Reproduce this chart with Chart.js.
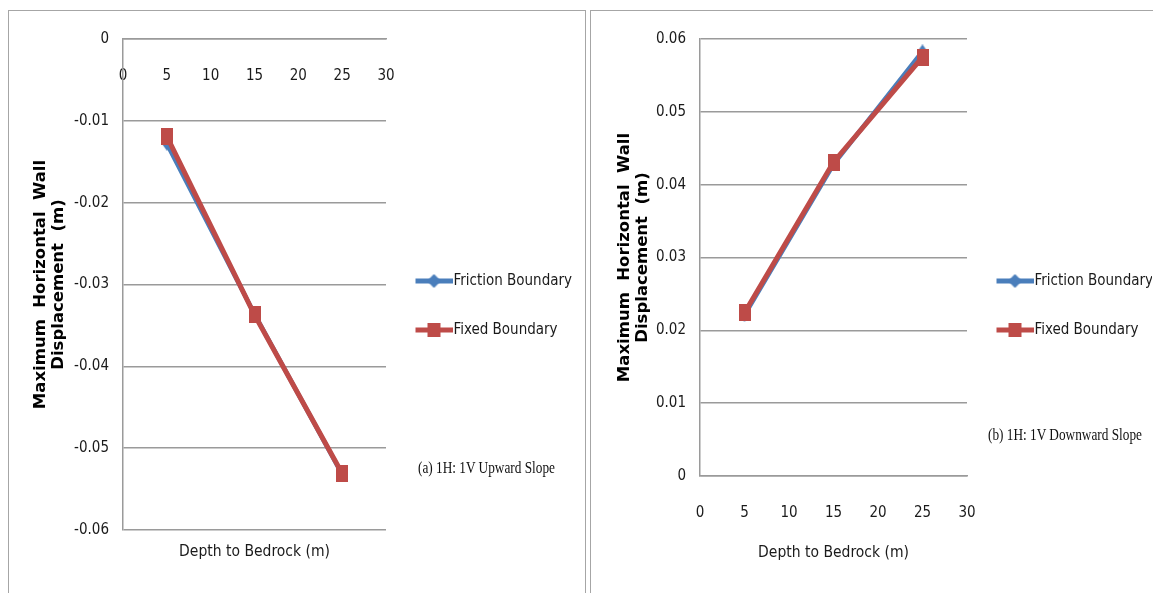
<!DOCTYPE html>
<html>
<head>
<meta charset="utf-8">
<script src="https://cdn.jsdelivr.net/npm/chart.js@4.4.1/dist/chart.umd.min.js"></script>
<style>
body { margin: 0; background: #fff; width: 1153px; height: 593px; overflow: hidden; position: relative; }
.panel { position: absolute; top: 10px; height: 600px; border: 1px solid #a6a6a6; box-sizing: border-box; }
canvas { position: absolute; }
.note { position: absolute; font-family: 'Liberation Serif', serif; font-size: 16px; color: #111;
        transform: scaleX(0.83); transform-origin: 0 50%; white-space: nowrap; line-height: 18px; }
</style>
</head>
<body>
<div class="panel" style="left:8px;width:578px"></div>
<div class="panel" style="left:590px;width:600px"></div>
<canvas id="upChart" width="575" height="582" style="left:9px;top:11px"></canvas>
<canvas id="downChart" width="561" height="582" style="left:591px;top:11px"></canvas>
<div class="note" style="left:418px;top:459px">(a) 1H: 1V Upward Slope</div>
<div class="note" style="left:988px;top:426px">(b) 1H: 1V Downward Slope</div>

<script>
// depth to bedrock (m)
const depths = [5, 15, 25];

// (a) 1H:1V upward slope
const upFriction = [-0.0128, -0.0336, -0.0532];
const upFixed = [-0.0119, -0.0337, -0.0531];

// (b) 1H:1V downward slope
const downFriction = [0.0221, 0.0428, 0.0583];
const downFixed = [0.0224, 0.0431, 0.0575];

const xTicks = [0, 5, 10, 15, 20, 25, 30];
const upTicks = [0, -0.01, -0.02, -0.03, -0.04, -0.05, -0.06];
const downTicks = [0, 0.01, 0.02, 0.03, 0.04, 0.05, 0.06];

const seriesNames = ['Friction Boundary', 'Fixed Boundary'];
const blue = '#4a7ebb';
const red = '#be4b48';
const gridColor = '#9a9a9a';

Chart.defaults.font.family = "'DejaVu Sans Condensed', 'Liberation Sans Narrow', sans-serif";
Chart.defaults.color = '#1a1a1a';

function diamond(w, h, color) {
    const c = document.createElement('canvas');
    c.width = w; c.height = h;
    const g = c.getContext('2d');
    g.fillStyle = color;
    g.beginPath();
    g.moveTo(w / 2, 0); g.lineTo(w, h / 2); g.lineTo(w / 2, h); g.lineTo(0, h / 2);
    g.closePath(); g.fill();
    return c;
}

function box(w, h, color) {
    const c = document.createElement('canvas');
    c.width = w; c.height = h;
    const g = c.getContext('2d');
    g.fillStyle = color;
    g.fillRect(0, 0, w, h);
    return c;
}

// line + marker used in the legend
function legendIcon(color, marker) {
    const c = document.createElement('canvas');
    c.width = 39; c.height = 20;
    const g = c.getContext('2d');
    g.strokeStyle = color;
    g.lineWidth = 5;
    g.beginPath(); g.moveTo(2, 10); g.lineTo(39, 10); g.stroke();
    g.drawImage(marker, 20.5 - marker.width / 2, 10 - marker.height / 2);
    return c;
}

const blueMark = diamond(10, 14, blue);
const redMark = box(12, 17, red);
const blueIcon = legendIcon(blue, diamond(14, 14, blue));
const redIcon = legendIcon(red, box(13, 14, red));

function pts(ys) {
    return depths.map((d, i) => ({ x: d, y: ys[i] }));
}

function setTicks(list) {
    return scale => {
        scale.ticks = list.slice().sort((a, b) => a - b).map(v => ({ value: v }));
    };
}

function makeChart(id, friction, fixed, yTicks, cfg) {
    const legendWidth = cfg.legendWidth;
    const xTitle = { display: true, text: 'Depth to Bedrock (m)', font: { size: 15.5 }, padding: { top: 0, bottom: cfg.xTitlePad } };
    const xScales = cfg.upward ? {
        x: {
            type: 'linear', min: 0, max: 30, position: { y: 0 },
            afterBuildTicks: setTicks(xTicks),
            grid: { display: false, drawTicks: false },
            border: { display: true, color: gridColor, width: 1.5 },
            ticks: { padding: 28, font: { size: 15 }, maxRotation: 0, callback: v => String(v) }
        },
        xTitle: {
            type: 'linear', axis: 'x', position: 'bottom', min: 0, max: 30,
            grid: { display: false }, border: { display: false },
            ticks: { display: false },
            title: xTitle,
            afterFit: s => { s.height = cfg.xHeight; }
        }
    } : {
        x: {
            type: 'linear', min: 0, max: 30, position: 'bottom',
            afterBuildTicks: setTicks(xTicks),
            grid: { display: false, drawTicks: false },
            border: { display: true, color: gridColor, width: 1.5 },
            ticks: { padding: 28, font: { size: 15 }, maxRotation: 0, callback: v => String(v) },
            title: xTitle,
            afterFit: s => { s.height = cfg.xHeight; }
        }
    };

    return new Chart(document.getElementById(id), {
        type: 'line',
        data: {
            datasets: [
                {
                    label: seriesNames[0], data: pts(friction), order: 1,
                    borderColor: blue, backgroundColor: blue, borderWidth: 4.5,
                    pointStyle: blueMark, pointRadius: 6, tension: 0
                },
                {
                    label: seriesNames[1], data: pts(fixed), order: 0,
                    borderColor: red, backgroundColor: red, borderWidth: 5,
                    pointStyle: redMark, pointRadius: 7, tension: 0
                }
            ]
        },
        options: {
            responsive: false,
            animation: false,
            layout: { padding: { left: 0, right: 0, top: 28, bottom: 0 } },
            scales: Object.assign({}, xScales, {
                y: {
                    type: 'linear', position: 'left',
                    min: Math.min(...yTicks), max: Math.max(...yTicks),
                    afterBuildTicks: setTicks(yTicks),
                    afterFit: s => { s.width = cfg.yWidth; },
                    grid: { color: gridColor, lineWidth: 1.5, drawTicks: false },
                    border: { display: true, color: gridColor, width: 1.5 },
                    ticks: { padding: 14, font: { size: 15 }, callback: v => String(v) },
                    title: {
                        display: true,
                        text: ['Maximum  Horizontal  Wall', 'Displacement  (m)'],
                        color: '#000',
                        font: { family: "'DejaVu Sans', sans-serif", size: 16.5, weight: 'bold', lineHeight: '18px' },
                        padding: { top: cfg.titlePad, bottom: 0 }
                    }
                }
            }),
            plugins: {
                tooltip: { enabled: false },
                legend: {
                    position: 'right',
                    align: 'start',
                    title: { display: true, text: ' ', font: { size: 10 }, padding: { top: 188.5, bottom: 0 } },
                    labels: {
                        usePointStyle: true,
                        pointStyleWidth: 26,
                        padding: 34,
                        font: { size: 15 },
                        color: '#222',
                        generateLabels: () => [
                            { text: seriesNames[0], pointStyle: blueIcon, datasetIndex: 0, hidden: false, lineWidth: 0, fillStyle: blue, strokeStyle: blue },
                            { text: seriesNames[1], pointStyle: redIcon, datasetIndex: 1, hidden: false, lineWidth: 0, fillStyle: red, strokeStyle: red }
                        ]
                    }
                }
            }
        },
        plugins: [{
            id: 'legendWidth',
            afterInit(chart) {
                const fit = chart.legend.fit;
                chart.legend.fit = function () {
                    fit.call(this);
                    this.width = legendWidth;
                };
            }
        }]
    });
}

makeChart('upChart', upFriction, upFixed, upTicks,
    { upward: true, legendWidth: 198, yWidth: 114, xHeight: 63, xTitlePad: 32, titlePad: 23 });
makeChart('downChart', downFriction, downFixed, downTicks,
    { upward: false, legendWidth: 185, yWidth: 109, xHeight: 117, xTitlePad: 31, titlePad: 25 });
</script>
</body>
</html>
